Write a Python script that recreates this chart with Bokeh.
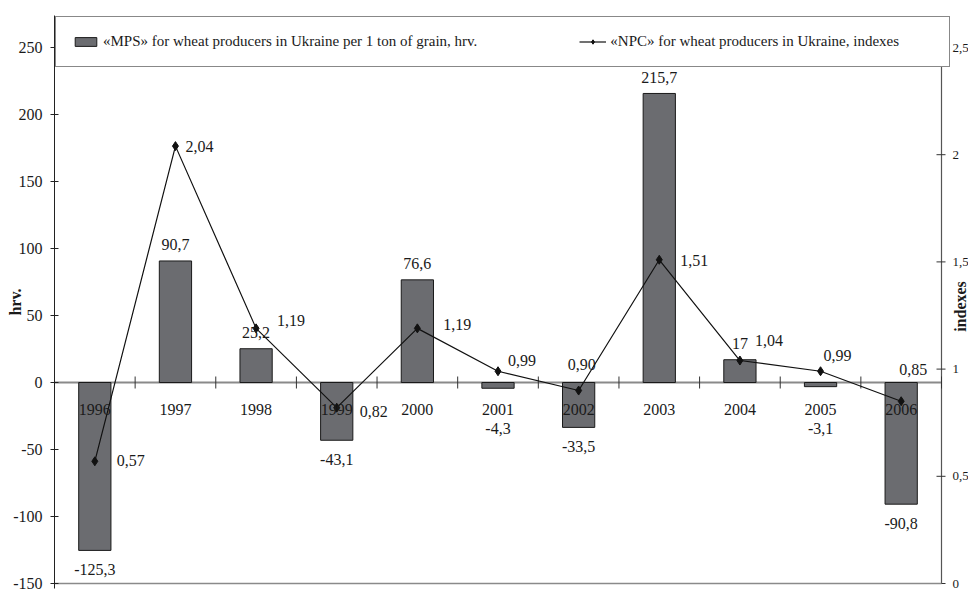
import numpy as np
from bokeh.plotting import figure
from bokeh.models import (Range1d, FixedTicker, ColumnDataSource, Legend, LegendItem)
from bokeh.core.properties import value
from bokeh.embed import file_html
from bokeh.resources import INLINE

# ---------------- data ----------------
years = ["1996", "1997", "1998", "1999", "2000", "2001", "2002", "2003", "2004", "2005", "2006"]
mps = [-125.3, 90.7, 25.2, -43.1, 76.6, -4.3, -33.5, 215.7, 17, -3.1, -90.8]
npc = [0.57, 2.04, 1.19, 0.82, 1.19, 0.99, 0.90, 1.51, 1.04, 0.99, 0.85]
left_ticks = [-150, -100, -50, 0, 50, 100, 150, 200, 250]
right_ticks = [0, 0.5, 1, 1.5, 2, 2.5]
right_tick_labels = ["0", "0,5", "1", "1,5", "2", "2,5"]
mps_name = "«MPS» for wheat producers in Ukraine per 1 ton of grain, hrv."
npc_name = "«NPC» for wheat producers in Ukraine, indexes"
left_title = "hrv."
right_title = "indexes"

# ---------------- layout (pixels) ----------------
FONT_NAME = "Liberation Serif"
FONT = value(FONT_NAME)
W, H = 968, 593
FRAME_L, FRAME_T, FRAME_B = 54, 15, 588     # frame reaches the right edge of the canvas
AXIS_R = 941                                 # right value axis (drawn by hand)
TOP_TICK_Y, BOT_TICK_Y = 47, 583             # pixel rows of the top / bottom ticks

n = len(years)
px_per_cat = (AXIS_R - FRAME_L) / n
y_lo, y_top_tick = left_ticks[0], left_ticks[-1]
px_per_unit = (BOT_TICK_Y - TOP_TICK_Y) / (y_top_tick - y_lo)
y_range = Range1d(y_lo - (FRAME_B - BOT_TICK_Y) / px_per_unit,
                  y_top_tick + (TOP_TICK_Y - FRAME_T) / px_per_unit)
r_lo, r_top_tick = right_ticks[0], right_ticks[-1]
r_px_per_unit = (BOT_TICK_Y - TOP_TICK_Y) / (r_top_tick - r_lo)
r_range = Range1d(r_lo - (FRAME_B - BOT_TICK_Y) / r_px_per_unit,
                  r_top_tick + (TOP_TICK_Y - FRAME_T) / r_px_per_unit)
x_range = Range1d(0, n + (W - AXIS_R) / px_per_cat)

# label offsets for the NPC labels (pixels, as placed in the original)
npc_dx = [22, 10, 21, 23, 26, 10, -11, 21, 15, 3, -2]
npc_dy = [-1, 0, -8, 4, -4, -11, -26, 1, -20, -16, -32]

xc = np.arange(n) + 0.5
mps_txt = [f"{v:g}".replace(".", ",") for v in mps]
npc_txt = [f"{v:.2f}".replace(".", ",") for v in npc]
mps_anchor = [v if (v >= 0 or abs(v) * px_per_unit >= 27) else 0 for v in mps]
mps_dy = [(-16 if v >= 0 else (19 if abs(v) * px_per_unit >= 27 else 46)) for v in mps]

src = ColumnDataSource(dict(x=xc, year=years, mps=mps, npc=npc, mps_txt=mps_txt,
                            npc_txt=npc_txt, mps_anchor=mps_anchor, mps_dy=mps_dy,
                            npc_dx=npc_dx, npc_dy=npc_dy, zero=[0] * n))

p = figure(width=W, height=H, x_range=x_range, y_range=y_range,
           output_backend="svg", toolbar_location=None, x_axis_location=None,
           min_border_left=FRAME_L, min_border_right=0,
           min_border_top=FRAME_T, min_border_bottom=H - FRAME_B)
p.outline_line_color = None
p.grid.visible = False
p.extra_y_ranges = {"right": r_range}

# left axis (native)
ya = p.yaxis[0]
ya.ticker = FixedTicker(ticks=left_ticks)
ya.major_label_overrides = {t: str(t) for t in left_ticks}
ya.minor_tick_line_color = None
ya.major_tick_in = 4
ya.major_tick_out = 4
ya.major_label_standoff = 8
ya.axis_line_color = "#222222"
ya.major_tick_line_color = "#222222"
ya.major_label_text_font = FONT_NAME
ya.major_label_text_font_size = "16px"
ya.major_label_text_color = "#1a1a1a"
ya.axis_label = left_title
ya.axis_label_standoff = -14
ya.axis_label_text_font = FONT_NAME
ya.axis_label_text_font_size = "16px"
ya.axis_label_text_font_style = "bold"
ya.axis_label_text_color = "#1a1a1a"

# right axis (drawn inside the frame)
p.segment(x0=[n], x1=[n], y0=[r_lo], y1=[r_top_tick], y_range_name="right",
          line_color="#555555", line_width=1.2)
p.segment(x0=[n - 5 / px_per_cat] * len(right_ticks), x1=[n + 4 / px_per_cat] * len(right_ticks),
          y0=right_ticks, y1=right_ticks, y_range_name="right", line_color="#333333", line_width=1)
p.text(x=[n] * len(right_ticks), y=right_ticks, text=right_tick_labels, y_range_name="right",
       x_offset=11, text_align="left", text_baseline="middle", text_font=FONT,
       text_font_size="13px", text_color="#1a1a1a")
p.text(x=[n], y=[(r_lo + r_top_tick) / 2], text=[right_title], y_range_name="right",
       x_offset=19, y_offset=-9, angle=np.pi / 2, text_align="center", text_baseline="middle",
       text_font=FONT, text_font_size="16px", text_font_style="bold", text_color="#1a1a1a")

# zero line and bottom line
p.segment(x0=[0, 0], x1=[n, n], y0=[0, y_lo], y1=[0, y_lo],
          line_color="#8a8a8a", line_width=[2, 1.5])

# bars
bars = p.vbar(x="x", top="mps", bottom=0, width=0.4, source=src,
              fill_color="#6b6c70", line_color="#1a1a1a", line_width=1)

# category tick marks on the zero line
k = 6 / px_per_unit
bounds = np.arange(n + 1)
p.segment(x0=bounds, x1=bounds, y0=[-k] * (n + 1), y1=[k] * (n + 1),
          line_color="#333333", line_width=1)

# line + markers
line_r = p.line(x="x", y="npc", source=src, y_range_name="right", line_color="#111111", line_width=1.2)
pts = p.scatter(x="x", y="npc", source=src, y_range_name="right", marker="diamond",
                size=9, fill_color="#111111", line_color="#111111")

# category labels
p.text(x="x", y="zero", text="year", source=src, text_align="center", text_baseline="middle",
       y_offset=27, text_font=FONT, text_font_size="16px", text_color="#1a1a1a")

# MPS value labels
p.text(x="x", y="mps_anchor", text="mps_txt", source=src, text_align="center",
       text_baseline="middle", y_offset="mps_dy", text_font=FONT, text_font_size="16px",
       text_color="#1a1a1a")

# NPC value labels
p.text(x="x", y="npc", text="npc_txt", source=src, y_range_name="right", text_align="left",
       text_baseline="middle", x_offset="npc_dx", y_offset="npc_dy", text_font=FONT,
       text_font_size="16px", text_color="#1a1a1a")

# legend
legend = Legend(items=[LegendItem(label=mps_name, renderers=[bars]),
                       LegendItem(label=npc_name, renderers=[line_r, pts])],
                orientation="horizontal", location="top_left", padding=16,
                spacing=102, label_width=323, label_height=15, glyph_width=27,
                glyph_height=11, label_standoff=4, margin=1,
                border_line_color="#111111", border_line_width=1,
                background_fill_color="white", background_fill_alpha=1,
                label_text_font=FONT_NAME, label_text_font_size="15px", label_text_color="#1a1a1a")
p.add_layout(legend)

open("out.html", "w").write(file_html(p, INLINE))
